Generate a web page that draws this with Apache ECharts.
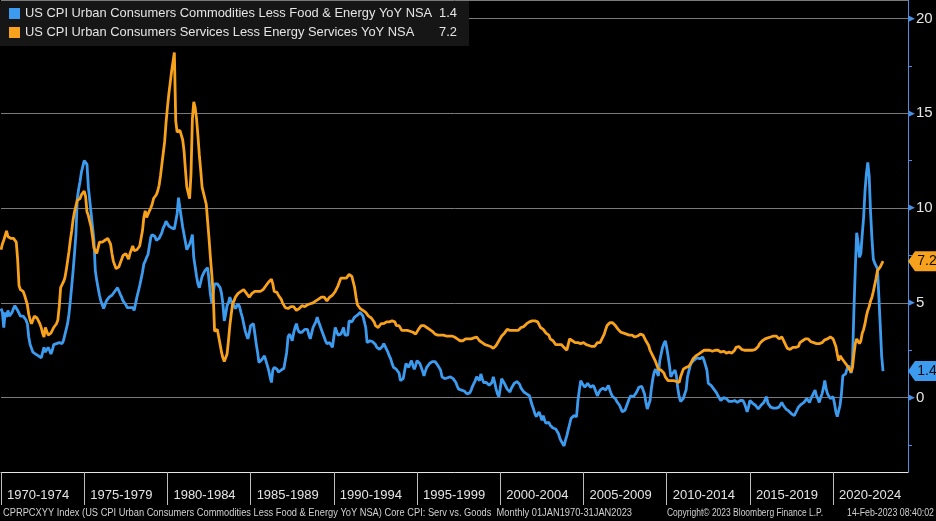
<!DOCTYPE html>
<html><head><meta charset="utf-8">
<script src="https://cdn.jsdelivr.net/npm/echarts@6/dist/echarts.min.js"></script>
<style>html,body{margin:0;padding:0;background:#000;}#c{width:936px;height:521px;}</style>
</head><body><div id="c"></div>
<script>
// ---- data (monthly, Jan 1970 .. Jan 2023) ----
const startYear = 1970;
const axisMonthCount = 655; // axis runs Jan 1970 .. mid 2024
const periodLabels = ['1970-1974','1975-1979','1980-1984','1985-1989','1990-1994','1995-1999','2000-2004','2005-2009','2010-2014','2015-2019','2020-2024'];
const goodsName = 'US CPI Urban Consumers Commodities Less Food & Energy YoY NSA';
const servicesName = 'US CPI Urban Consumers Services Less Energy Services YoY NSA';
const goodsLast = '1.4';
const servicesLast = '7.2';

const goodsYoY = [
/*1970*/ 4.7,4.5,3.7,4.5,4.25,4.6,4.3,4.4,4.5,4.7,4.85,4.8,
/*1971*/ 4.6,4.5,4.3,4.3,4.3,4.3,4.1,3.9,3.2,2.8,2.6,2.4,
/*1972*/ 2.35,2.3,2.3,2.2,2.2,2.1,2.05,2.65,2.4,2.5,2.65,2.5,
/*1973*/ 2.3,2.5,2.8,2.8,2.85,2.9,2.9,2.9,2.85,3.0,3.3,3.6,
/*1974*/ 3.9,4.4,5.1,5.9,6.7,7.6,8.6,10.5,11.0,11.4,11.9,12.2,
/*1975*/ 12.5,12.5,12.3,11.1,10.4,9.7,9.0,8.3,6.7,6.2,5.8,5.4,
/*1976*/ 5.1,4.9,4.7,4.9,5.1,5.2,5.3,5.35,5.4,5.5,5.6,5.65,
/*1977*/ 5.8,5.9,5.45,5.3,5.1,5.0,4.9,4.75,4.8,4.75,4.75,4.75,
/*1978*/ 4.6,4.5,5.3,5.6,5.9,6.25,6.6,7.05,7.2,7.4,7.55,8.0,
/*1979*/ 8.45,8.6,8.7,8.5,8.3,8.25,8.4,8.5,8.7,8.95,9.1,9.3,
/*1980*/ 9.2,9.05,9.0,8.95,8.95,8.9,8.8,9.7,10.55,10.0,9.5,9.0,
/*1981*/ 8.6,8.2,7.8,7.9,8.1,8.3,8.6,7.4,6.9,6.4,6.0,5.8,
/*1982*/ 6.1,6.4,6.5,6.7,6.8,6.85,6.2,5.45,5.0,5.5,6.0,6.1,
/*1983*/ 6.0,5.9,5.8,5.5,4.95,4.05,4.4,4.85,5.0,5.3,5.1,5.0,
/*1984*/ 4.85,4.7,4.8,4.95,4.8,4.5,4.25,3.9,3.55,3.3,3.1,3.4,
/*1985*/ 3.8,3.85,3.9,3.4,2.85,2.4,1.85,1.8,2.0,2.1,2.2,1.95,
/*1986*/ 1.7,1.45,1.1,0.8,1.45,1.6,1.7,1.5,1.35,1.4,1.45,1.5,
/*1987*/ 1.55,1.6,2.4,3.2,3.35,3.2,3.0,3.4,3.7,3.9,3.6,3.45,
/*1988*/ 3.35,3.45,3.55,3.6,3.6,3.6,3.3,3.1,3.4,3.7,3.8,4.0,
/*1989*/ 4.25,4.0,3.8,3.6,3.4,3.2,3.0,2.85,2.85,2.9,2.9,2.65,
/*1990*/ 3.2,3.7,3.5,3.3,3.35,3.35,3.5,3.7,3.3,3.3,3.3,4.05,
/*1991*/ 4.0,4.0,4.1,4.25,4.3,4.35,4.4,4.5,4.4,4.3,4.0,3.7,
/*1992*/ 2.9,2.95,3.0,3.0,2.95,2.9,2.8,2.65,2.6,2.55,2.55,2.7,
/*1993*/ 2.85,2.7,2.55,2.4,2.2,2.05,1.8,1.6,1.55,1.5,1.5,1.3,
/*1994*/ 0.9,0.95,1.0,1.0,1.8,1.7,1.6,1.8,1.95,1.7,1.5,1.7,
/*1995*/ 1.95,1.9,1.8,1.7,1.4,1.15,1.4,1.6,1.7,1.8,1.85,1.9,
/*1996*/ 1.95,1.9,1.8,1.7,1.6,1.45,1.1,1.05,1.0,1.0,1.05,1.1,
/*1997*/ 1.1,1.15,1.0,0.9,0.8,0.6,0.45,0.45,0.4,0.4,0.35,0.3,
/*1998*/ 0.2,0.1,0.25,0.4,0.6,0.75,0.9,1.1,1.0,0.9,1.25,1.0,
/*1999*/ 0.8,0.8,0.8,0.75,0.65,0.55,0.8,1.1,0.8,0.45,0.2,0.05,
/*2000*/ 0.5,1.0,0.9,0.75,0.6,0.45,0.4,0.3,0.5,0.6,0.75,0.8,
/*2001*/ 0.85,0.9,0.7,0.5,0.4,0.3,0.3,0.2,0.1,0.1,0.05,-0.4,
/*2002*/ -0.6,-0.85,-1.0,-1.1,-0.75,-0.95,-1.2,-0.95,-1.2,-1.35,-1.3,-1.3,
/*2003*/ -1.45,-1.55,-1.6,-1.7,-1.65,-1.75,-1.9,-2.15,-2.3,-2.4,-2.55,-2.25,
/*2004*/ -2.0,-1.7,-1.4,-1.1,-1.0,-0.95,-0.95,-1.0,-0.15,0.4,0.9,0.75,
/*2005*/ 0.65,0.55,0.65,0.75,0.65,0.55,0.6,0.65,0.5,0.4,0.1,0.25,
/*2006*/ 0.4,0.45,0.5,0.55,0.4,0.5,0.65,0.4,0.2,0.05,-0.05,-0.05,
/*2007*/ -0.2,-0.3,-0.4,-0.5,-0.75,-0.7,-0.65,-0.45,-0.25,-0.05,0.1,0.05,
/*2008*/ 0.05,0.1,0.25,0.4,0.55,0.65,0.6,0.55,0.2,-0.25,-0.6,-0.55,
/*2009*/ -0.15,0.5,1.0,1.35,1.5,1.45,1.15,1.95,2.3,2.65,2.85,3.0,
/*2010*/ 2.65,2.2,1.7,1.1,1.25,1.35,1.45,1.15,0.5,0.05,-0.2,-0.3,
/*2011*/ -0.05,0.2,0.4,1.1,1.4,1.7,1.85,1.95,2.0,2.05,2.1,2.15,
/*2012*/ 2.05,2.1,2.15,1.95,1.7,1.45,0.75,0.7,0.65,0.55,0.45,0.4,
/*2013*/ 0.25,0.1,0.0,-0.15,-0.05,0.0,0.05,-0.05,-0.15,-0.2,-0.25,-0.2,
/*2014*/ -0.15,-0.15,-0.2,-0.25,-0.2,-0.15,-0.15,-0.15,-0.3,-0.5,-0.75,-0.5,
/*2015*/ -0.15,-0.2,-0.3,-0.35,-0.4,-0.5,-0.6,-0.5,-0.4,-0.3,-0.25,-0.1,
/*2016*/ 0.05,-0.3,-0.4,-0.5,-0.6,-0.55,-0.5,-0.55,-0.6,-0.5,-0.4,-0.25,
/*2017*/ -0.4,-0.5,-0.6,-0.65,-0.7,-0.75,-0.85,-0.95,-0.95,-1.0,-0.65,-0.5,
/*2018*/ -0.4,-0.35,-0.3,-0.25,-0.15,-0.05,-0.15,-0.25,-0.05,0.1,0.25,0.4,
/*2019*/ 0.1,-0.05,-0.25,0.0,0.2,0.5,0.9,0.45,0.2,0.1,-0.05,0.0,
/*2020*/ 0.05,-0.3,-0.75,-1.0,-1.0,-0.4,0.2,1.15,1.2,1.25,1.5,1.7,
/*2021*/ 1.7,1.3,2.0,4.6,6.8,8.7,8.2,7.4,7.6,8.6,9.5,10.9,
/*2022*/ 11.8,12.4,11.7,9.8,8.4,7.3,7.1,7.1,6.8,5.3,3.8,2.2,
/*2023*/ 1.4
];

const servicesYoY = [
/*1970*/ 7.8,8.1,8.3,8.4,8.8,8.5,8.4,8.4,8.5,8.4,8.3,8.2,
/*1971*/ 7.3,5.9,5.7,5.6,5.6,5.4,5.3,4.9,4.4,4.1,3.9,4.1,
/*1972*/ 4.3,4.2,4.2,4.1,3.9,3.7,3.4,3.2,3.7,3.5,3.3,3.2,
/*1973*/ 3.4,3.5,3.7,3.8,3.9,4.1,4.8,5.8,5.9,6.1,6.3,6.7,
/*1974*/ 7.2,7.7,8.3,8.8,9.4,9.8,10.1,10.4,10.4,10.5,10.7,10.8,
/*1975*/ 10.9,10.6,9.8,9.6,9.3,9.0,8.5,7.9,7.8,7.6,7.9,8.2,
/*1976*/ 8.2,8.2,8.1,8.3,8.3,8.4,8.5,8.1,7.6,7.2,7.0,6.8,
/*1977*/ 6.8,6.9,7.0,7.3,7.5,7.5,7.6,7.5,7.3,7.6,7.8,8.0,
/*1978*/ 7.75,7.8,7.8,7.9,8.0,8.1,8.8,9.5,9.85,9.5,9.6,9.85,
/*1979*/ 10.0,10.2,10.5,10.6,10.7,10.9,11.2,11.7,12.3,12.9,13.5,14.5,
/*1980*/ 15.3,16.0,16.6,17.2,17.7,18.2,14.6,14.0,14.0,14.1,14.1,13.6,
/*1981*/ 13.0,12.0,11.1,11.2,10.5,11.8,14.7,15.6,15.3,14.7,13.8,12.8,
/*1982*/ 12.0,11.1,10.8,10.5,10.2,9.3,8.4,7.4,6.5,5.5,3.5,3.6,
/*1983*/ 3.6,3.5,2.8,2.4,2.1,1.9,1.8,2.3,3.0,3.8,4.4,4.95,
/*1984*/ 5.1,5.3,5.4,5.5,5.5,5.6,5.7,5.7,5.6,5.5,5.4,5.3,
/*1985*/ 5.4,5.5,5.5,5.6,5.6,5.6,5.5,5.6,5.7,5.7,5.8,5.9,
/*1986*/ 6.0,6.1,6.2,6.25,6.0,5.6,5.6,5.55,5.4,5.3,5.2,5.0,
/*1987*/ 4.9,4.75,4.7,4.7,4.7,4.8,4.85,4.8,4.7,4.6,4.6,4.7,
/*1988*/ 4.8,4.85,4.8,4.8,4.9,4.9,4.9,4.95,4.9,5.0,5.0,5.1,
/*1989*/ 5.1,5.2,5.2,5.3,5.3,5.3,5.2,5.1,5.2,5.3,5.3,5.4,
/*1990*/ 5.5,5.6,5.7,5.9,6.1,6.3,6.4,6.3,6.3,6.3,6.4,6.5,
/*1991*/ 6.6,6.4,6.1,5.8,5.3,4.9,4.8,4.7,4.6,4.6,4.5,4.5,
/*1992*/ 4.4,4.3,4.3,4.2,4.15,4.0,3.8,3.7,3.7,3.8,3.9,3.9,
/*1993*/ 3.9,4.0,4.0,4.0,4.0,4.0,4.05,4.05,4.0,3.8,3.8,3.8,
/*1994*/ 3.7,3.55,3.6,3.55,3.5,3.55,3.5,3.5,3.5,3.45,3.4,3.35,
/*1995*/ 3.45,3.6,3.7,3.8,3.9,3.8,3.7,3.7,3.65,3.6,3.6,3.5,
/*1996*/ 3.4,3.35,3.3,3.3,3.25,3.3,3.35,3.3,3.3,3.25,3.25,3.25,
/*1997*/ 3.25,3.25,3.2,3.2,3.2,3.1,3.0,3.0,3.0,3.0,3.05,3.1,
/*1998*/ 3.1,3.1,3.1,3.1,3.1,3.15,3.2,3.2,3.1,3.0,3.0,2.9,
/*1999*/ 2.85,2.8,2.8,2.75,2.75,2.7,2.65,2.6,2.65,2.75,2.85,3.0,
/*2000*/ 3.1,3.25,3.3,3.4,3.5,3.6,3.6,3.55,3.55,3.55,3.55,3.55,
/*2001*/ 3.55,3.55,3.6,3.7,3.7,3.75,3.8,3.9,3.95,4.0,4.05,4.05,
/*2002*/ 4.05,4.05,4.0,4.0,3.9,3.7,3.65,3.6,3.5,3.4,3.35,3.3,
/*2003*/ 3.1,3.0,3.0,2.9,2.8,2.75,2.8,2.9,2.8,2.7,2.65,2.55,
/*2004*/ 2.5,2.8,3.1,3.0,3.0,3.0,2.9,2.9,2.9,2.85,2.85,2.9,
/*2005*/ 2.9,2.85,2.8,2.75,2.75,2.7,2.7,2.6,2.7,2.8,2.9,2.9,
/*2006*/ 2.9,3.0,3.2,3.35,3.6,3.8,3.9,3.95,4.0,3.95,3.9,3.8,
/*2007*/ 3.7,3.6,3.5,3.45,3.4,3.4,3.35,3.35,3.35,3.3,3.35,3.3,
/*2008*/ 3.2,3.2,3.25,3.25,3.3,3.35,3.35,3.3,3.2,3.0,2.9,2.75,
/*2009*/ 2.5,2.4,2.2,2.15,1.9,1.7,1.5,1.5,1.45,1.45,1.3,1.1,
/*2010*/ 1.0,0.9,0.9,0.9,0.9,0.9,0.9,0.85,0.8,0.8,1.1,1.3,
/*2011*/ 1.5,1.55,1.6,1.6,1.65,1.7,1.9,2.05,2.1,2.2,2.3,2.3,
/*2012*/ 2.3,2.4,2.45,2.5,2.45,2.5,2.55,2.5,2.5,2.45,2.5,2.5,
/*2013*/ 2.55,2.5,2.45,2.4,2.4,2.45,2.4,2.35,2.4,2.4,2.4,2.35,
/*2014*/ 2.3,2.5,2.65,2.75,2.7,2.6,2.55,2.55,2.5,2.5,2.5,2.5,
/*2015*/ 2.5,2.5,2.5,2.55,2.55,2.6,2.7,2.85,2.9,3.0,3.05,3.1,
/*2016*/ 3.1,3.15,3.2,3.2,3.2,3.25,3.25,3.25,3.2,3.1,3.15,3.2,
/*2017*/ 3.1,2.9,2.75,2.6,2.5,2.55,2.65,2.65,2.65,2.65,2.55,2.7,
/*2018*/ 2.9,2.95,3.0,3.0,3.1,3.2,3.1,3.0,2.95,2.9,2.9,2.85,
/*2019*/ 2.85,2.85,2.85,2.85,2.9,3.0,3.05,3.1,3.1,3.15,3.2,3.1,
/*2020*/ 3.1,3.1,2.7,2.3,1.95,2.2,2.2,2.0,1.9,1.8,1.7,1.6,
/*2021*/ 1.5,1.35,1.6,2.3,2.85,3.1,3.1,2.85,3.0,3.4,3.6,3.9,
/*2022*/ 4.3,4.6,4.8,5.1,5.3,5.6,5.7,6.3,6.7,6.8,6.9,7.0,
/*2023*/ 7.2
];

// ---- build axis categories (months) ----
const months = [];
for (let i = 0; i < axisMonthCount; i++) {
  months.push((startYear + Math.floor(i / 12)) + '-' + String(i % 12 + 1).padStart(2, '0'));
}

const BLUE = '#3d9bef';
const ORANGE = '#f7a11c';
const AXISBLUE = '#4a8fe0';
const TXT = '#e4e4e4';
const LABELFONT = "'Liberation Sans',Arial,sans-serif";

function fitScale(text, font, width) {
  const ctx = document.createElement('canvas').getContext('2d');
  ctx.font = font;
  return width / ctx.measureText(text).width;
}
const footFont = '10px "Liberation Sans"';
const foot1 = 'CPRPCXYY Index (US CPI Urban Consumers Commodities Less Food & Energy YoY NSA) Core CPI: Serv vs. Goods  Monthly 01JAN1970-31JAN2023';
const foot2 = 'Copyright\u00A9 2023 Bloomberg Finance L.P.';
const foot3 = '14-Feb-2023 08:40:02';

const tagPath = 'path://M0,10 L7,0 L30,0 L30,20 L7,20 Z';
const lastCat = months[axisMonthCount - 1];

const chart = echarts.init(document.getElementById('c'), null, {renderer: 'canvas', width: 936, height: 521});
chart.setOption({
  backgroundColor: '#000',
  animation: false,
  grid: {left: 1, right: 28, top: -2, bottom: 49, containLabel: false},
  legend: {
    left: 0, top: 1, orient: 'vertical', selectedMode: false,
    backgroundColor: '#161616', padding: [6, 12, 7, 9], itemGap: 6,
    icon: 'rect', itemWidth: 11, itemHeight: 11,
    data: [goodsName, servicesName],
    formatter: function (name) {
      return '{n|' + name + '}{v|' + (name === goodsName ? goodsLast : servicesLast) + '}';
    },
    textStyle: {
      color: TXT, fontSize: 12.9, fontFamily: 'Liberation Sans',
      rich: {
        n: {width: 402, color: TXT, fontSize: 12.9, fontFamily: 'Liberation Sans'},
        v: {width: 30, align: 'right', color: TXT, fontSize: 12.9, fontFamily: 'Liberation Sans'}
      }
    }
  },
  xAxis: {
    type: 'category', data: months, boundaryGap: false,
    axisLine: {show: true, onZero: false, lineStyle: {color: '#e6e6e6', width: 1}},
    axisTick: {show: true, interval: function (i) { return i % 60 === 0; }, length: 33, lineStyle: {color: '#bdbdbd'}},
    axisLabel: {
      interval: function (i) { return i % 60 === 0; },
      formatter: function (v, i) { return periodLabels[i / 60] || ''; },
      align: 'left', margin: 17, padding: [0, 0, 0, 6],
      color: TXT, fontSize: 13, fontFamily: LABELFONT
    },
    splitLine: {show: false}
  },
  yAxis: {
    type: 'value', position: 'right', min: -3.92, max: 20.97,
    axisLine: {show: true, lineStyle: {color: AXISBLUE, width: 1}},
    axisTick: {show: false},
    minorTick: {show: true, splitNumber: 2, length: 4, lineStyle: {color: AXISBLUE}},
    splitLine: {show: true, lineStyle: {color: '#7a7a7a', width: 1}},
    axisLabel: {
      show: true, margin: 0, showMinLabel: false, showMaxLabel: false,
      formatter: function (v) { return '{t|\u25B6}{n|' + v + '}'; },
      rich: {
        t: {color: AXISBLUE, fontSize: 9, fontFamily: 'DejaVu Sans'},
        n: {color: TXT, fontSize: 15, fontFamily: 'Liberation Sans', padding: [0, 0, 0, 1]}
      }
    }
  },
  series: [
    {
      name: goodsName, type: 'line', data: goodsYoY, symbol: 'none', showSymbol: false,
      lineStyle: {color: BLUE, width: 2.8}, itemStyle: {color: BLUE}, z: 3,
      markPoint: {
        symbol: tagPath, symbolSize: [30, 20], symbolOffset: [15, 0], silent: true,
        itemStyle: {color: BLUE},
        label: {show: true, color: '#0a0a0a', fontSize: 14, fontFamily: 'Liberation Sans', offset: [4, 0], formatter: goodsLast},
        data: [{coord: [lastCat, Number(goodsLast)]}]
      }
    },
    {
      name: servicesName, type: 'line', data: servicesYoY, symbol: 'none', showSymbol: false,
      lineStyle: {color: ORANGE, width: 2.8}, itemStyle: {color: ORANGE}, z: 4,
      markPoint: {
        symbol: tagPath, symbolSize: [30, 20], symbolOffset: [15, 0], silent: true,
        itemStyle: {color: ORANGE},
        label: {show: true, color: '#0a0a0a', fontSize: 14, fontFamily: 'Liberation Sans', offset: [4, 0], formatter: servicesLast},
        data: [{coord: [lastCat, Number(servicesLast)]}]
      }
    }
  ],
  graphic: [
    {type: 'text', x: 3, y: 513, scaleX: fitScale(foot1, footFont, 629), style: {text: foot1, font: footFont, fill: '#d0d0d0', verticalAlign: 'middle'}},
    {type: 'text', x: 667, y: 513, scaleX: fitScale(foot2, footFont, 156), style: {text: foot2, font: footFont, fill: '#d0d0d0', verticalAlign: 'middle'}},
    {type: 'text', x: 847, y: 513, scaleX: fitScale(foot3, footFont, 87), style: {text: foot3, font: footFont, fill: '#d0d0d0', verticalAlign: 'middle'}}
  ]
});
</script></body></html>
